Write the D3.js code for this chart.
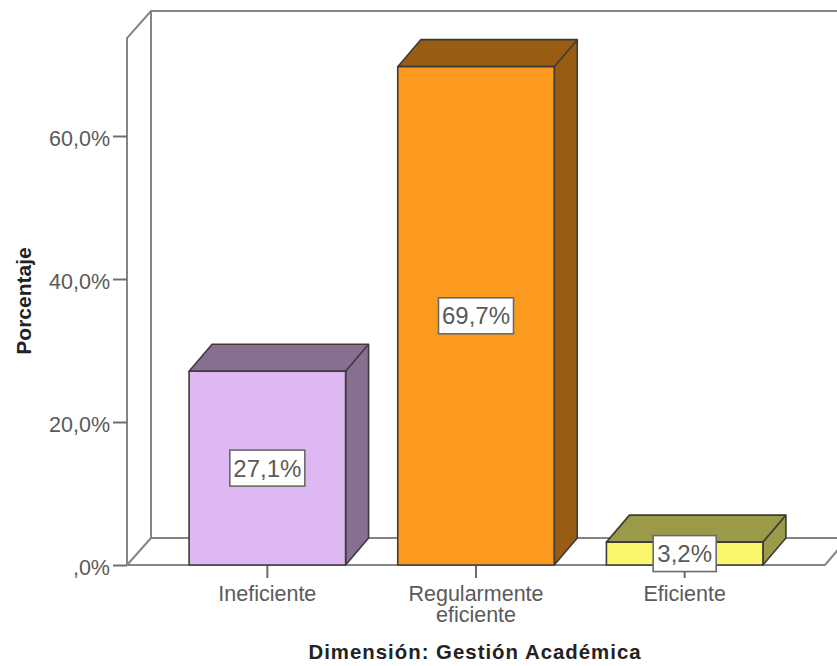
<!DOCTYPE html>
<html>
<head>
<meta charset="utf-8">
<script src="https://cdn.jsdelivr.net/npm/d3@7/dist/d3.min.js"></script>
<style>
  html, body { margin: 0; padding: 0; background: #fff; }
  svg { display: block; }
  text { font-family: "Liberation Sans", Arial, sans-serif; }
</style>
</head>
<body>
<svg id="chart" width="837" height="666"></svg>
<script>
const categories = ['Ineficiente', 'Regularmente eficiente', 'Eficiente'];
const percentages = [27.1, 69.7, 3.2];
const yTicks = [0, 20, 40, 60];
const yLabel = 'Porcentaje';
const xLabel = 'Dimensión: Gestión Académica';
const frontColors = ['#ddb8f2', '#fb9a1e', '#faf76c'];
const sideColors = ['#866f90', '#985d12', '#9a9a48'];

const width = 837;
const depthX = 23;
const depthY = -27;
const axisColor = '#858585';
const textColor = '#5a5a5a';

const svg = d3.select('#chart');

const yScale = d3.scaleLinear().domain([0, 60]).range([565, 136]);
const xScale = d3.scaleBand()
  .domain(categories)
  .range([163, 789])
  .paddingInner(0.25)
  .paddingOuter(0.125);

const pctFormat = (v) => {
  const s = v.toFixed(1).replace('.', ',') + '%';
  return s.startsWith('0,') ? s.slice(1) : s;
};

// back walls and floor of the 3d frame
const frameLeft = 127;
const frameRight = 825;
const frameTop = yScale(73.7);
const floorY = yScale(0);

const frame = svg.append('g')
  .attr('fill', 'none')
  .attr('stroke', axisColor)
  .attr('stroke-width', 2);

frame.append('path').attr('d', `
  M${frameLeft},${floorY}V${frameTop}
  L${frameLeft + depthX + 1},${frameTop + depthY}H${width}
  M${frameLeft + depthX + 1},${frameTop + depthY}V${floorY + depthY}H${width}
  M${frameLeft},${floorY}L${frameLeft + depthX + 1},${floorY + depthY}
  M${frameLeft},${floorY}H${frameRight}L${frameRight + depthX},${floorY + depthY}
`);

// axes
const yAxisG = svg.append('g')
  .attr('transform', `translate(${frameLeft},0)`)
  .call(d3.axisLeft(yScale).tickValues(yTicks).tickSize(14).tickPadding(3).tickFormat(pctFormat));
yAxisG.select('.domain').remove();

const xAxisG = svg.append('g')
  .attr('transform', `translate(0,${floorY})`)
  .call(d3.axisBottom(xScale).tickSize(13).tickFormat(''));
xAxisG.select('.domain').remove();

svg.selectAll('.tick line')
  .attr('stroke', '#6e6e6e')
  .attr('stroke-width', 2);

yAxisG.selectAll('text')
  .attr('font-size', 21.5)
  .attr('dy', '0.42em')
  .attr('fill', textColor);

// category labels wrap at the space, as in "Regularmente / eficiente"
svg.append('g')
  .selectAll('text')
  .data(categories)
  .join('text')
  .attr('text-anchor', 'middle')
  .attr('font-size', 21.5)
  .attr('fill', textColor)
  .attr('y', 601)
  .each(function (d) {
    const x = xScale(d) + xScale.bandwidth() / 2;
    d3.select(this)
      .selectAll('tspan')
      .data(d.split(' '))
      .join('tspan')
      .attr('x', x)
      .attr('dy', (w, i) => (i === 0 ? 0 : 21))
      .text((w) => w);
  });

// bars: top and side faces first, then the front
const bars = svg.append('g')
  .selectAll('g')
  .data(categories.map((c, i) => ({ c, v: percentages[i], i })))
  .join('g')
  .attr('stroke', '#3f3a3a')
  .attr('stroke-width', 1.6)
  .attr('stroke-linejoin', 'round');

const barLeft = (d) => xScale(d.c);
const barRight = (d) => xScale(d.c) + xScale.bandwidth();

bars.append('path')
  .attr('fill', (d) => sideColors[d.i])
  .attr('d', (d) => `
    M${barLeft(d)},${yScale(d.v)}
    l${depthX},${depthY}
    H${barRight(d) + depthX}
    V${floorY + depthY}
    L${barRight(d)},${floorY}
    V${yScale(d.v)}Z
  `);

bars.append('path')
  .attr('fill', 'none')
  .attr('d', (d) => `M${barRight(d)},${yScale(d.v)}l${depthX},${depthY}`);

bars.append('rect')
  .attr('x', barLeft)
  .attr('y', (d) => yScale(d.v))
  .attr('width', xScale.bandwidth())
  .attr('height', (d) => floorY - yScale(d.v))
  .attr('fill', (d) => frontColors[d.i]);

// value labels in white boxes at the middle of each front face
const valueLabels = svg.append('g')
  .selectAll('g')
  .data(categories.map((c, i) => ({ c, v: percentages[i] })))
  .join('g')
  .attr('transform', (d) => `translate(${xScale(d.c) + xScale.bandwidth() / 2},${yScale(d.v / 2)})`);

valueLabels.append('rect')
  .attr('fill', '#fff')
  .attr('stroke', '#6a6a6a')
  .attr('stroke-width', 1.6)
  .attr('x', (d) => (d.v < 10 ? -31.5 : -37.5))
  .attr('width', (d) => (d.v < 10 ? 63 : 75))
  .attr('y', -18)
  .attr('height', 36);

valueLabels.append('text')
  .attr('text-anchor', 'middle')
  .attr('dy', '0.36em')
  .attr('font-size', 24)
  .attr('fill', textColor)
  .text((d) => pctFormat(d.v));

// axis titles
svg.append('text')
  .attr('transform', 'translate(31,301) rotate(-90)')
  .attr('text-anchor', 'middle')
  .attr('font-size', 21)
  .attr('font-weight', 'bold')
  .attr('fill', '#222')
  .text(yLabel);

svg.append('text')
  .attr('x', 475)
  .attr('y', 659)
  .attr('text-anchor', 'middle')
  .attr('font-size', 20.4)
  .attr('font-weight', 'bold')
  .attr('letter-spacing', 1)
  .attr('fill', '#222')
  .text(xLabel);
</script>
</body>
</html>
